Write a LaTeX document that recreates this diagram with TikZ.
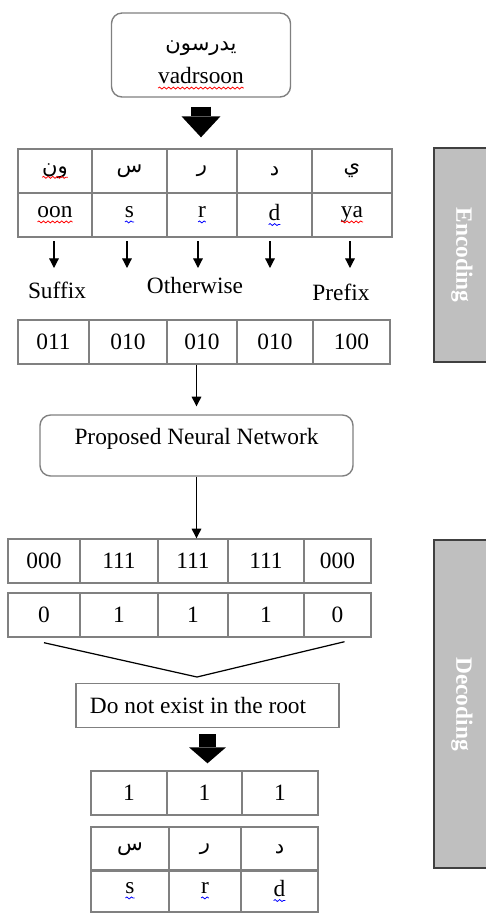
\documentclass[tikz,border=0pt]{standalone}
\usepackage{fontspec}
\setmainfont{Liberation Serif}
\newfontfamily\arabicfont[Script=Arabic]{DejaVu Sans}
\TeXXeTstate=1
\usetikzlibrary{arrows.meta, decorations.pathmorphing}

\newcommand{\basefont}{\fontsize{13.3}{16}\selectfont}
\newcommand{\ar}[1]{{\fontsize{12}{14}\selectfont\arabicfont\beginR #1\endR}}
\newcommand{\wavy}[2]{\tikz[baseline=(w.base), x=1cm, y=1cm]{%
  \node[shape=rectangle, draw=none, fill=none, inner sep=0pt, outer sep=0pt,
    minimum width=0pt, minimum height=0pt, text depth=, text width=, rotate=0] (w) {#2};
  \draw[#1, sharp corners, line width=0.45pt, decorate,
    decoration={snake, amplitude=0.55pt, segment length=2.6pt}]
    ([yshift=-2.4pt]w.base west) -- ([yshift=-2.4pt]w.base east);}}

\tikzset{
  cell/.style={draw=black!50, line width=0.8pt, minimum width={(#1)*0.02cm},
    minimum height=0.88cm, inner sep=0pt},
  roundbox/.style={draw=black!50, line width=0.8pt, rounded corners=6pt, inner sep=0pt},
  smallarrow/.style={-{Triangle[length=5.5pt, width=5.5pt]}, line width=0.7pt},
  bigarrow/.style n args={3}{line width=#1, -{Triangle[length=#2, width=#3, line width=0pt]}},
  sidebar/.style={fill=black!25, draw=black!75, line width=1pt, text=white,
    font=\basefont\bfseries, rotate=-90}
}

\begin{document}
\begin{tikzpicture}[x=0.02cm, y=-0.02cm, font=\basefont]
  \useasboundingbox (0,0) rectangle (486,914);

  % input word
  \node[roundbox, minimum width=179*0.02cm, minimum height=84*0.02cm, align=center] (word) at (201,55)
    {\rule{0pt}{17pt}\ar{يدرسون}\\[3pt]\wavy{red}{vadrsoon}};

  % split into letters
  \foreach \xa/\xb/\txt [count=\i] in {18/92/{\wavy{red}{\ar{ون}}}, 92/167/{\ar{س}},
      167/237/{\ar{ر}}, 237/312/{\ar{د}}, 312/392/{\ar{ي}}}
    \node[cell=\xb-\xa] (arab\i) at ({(\xa+\xb)/2},171) {\txt};
  \foreach \xa/\xb/\txt [count=\i] in {18/92/{\wavy{red}{oon}}, 92/167/{\wavy{blue}{s}},
      167/237/{\wavy{blue}{r}}, 237/312/{\wavy{blue}{d}}, 312/392/{\wavy{red}{ya}}}
    \node[cell=\xb-\xa] (tran\i) at ({(\xa+\xb)/2},215) {\txt};

  \draw[bigarrow={0.42cm}{0.42cm}{0.78cm}, shorten <=0.18cm, shorten >=0.22cm]
    (word.south) -- (word.south |- arab3.north);

  \foreach \i/\xx in {1/54, 2/127, 3/198, 4/270, 5/350} {
    \coordinate (tip\i) at (\xx,268);
    \draw[smallarrow, shorten <=2pt] (tip\i |- tran\i.south) -- (tip\i);
  }

  \node (suffix) at (57,290) {Suffix};
  \node (other) at (195,285) {Otherwise};
  \node (prefix) at (341,292) {Prefix};

  % codes
  \foreach \xa/\xb/\txt [count=\i] in {18/89/011, 89/167/010, 167/237/010, 237/313/010, 313/390/100}
    \node[cell=\xb-\xa] (code\i) at ({(\xa+\xb)/2},342) {\txt};

  \node[roundbox, minimum width=313*0.02cm, minimum height=61*0.02cm, text depth=10pt] (nn)
    at (196.5,445.5) {Proposed Neural Network};
  \draw[smallarrow, shorten >=0.16cm] (nn.north |- code3.south) -- (nn.north);

  % network output
  \foreach \xa/\xb/\txt [count=\i] in {8/80/000, 80/158/111, 158/228/111, 228/304/111, 304/371/000}
    \node[cell=\xb-\xa] (out\i) at ({(\xa+\xb)/2},561) {\txt};
  \foreach \xa/\xb/\txt [count=\i] in {8/80/0, 80/158/1, 158/228/1, 228/304/1, 304/371/0}
    \node[cell=\xb-\xa] (bit\i) at ({(\xa+\xb)/2},615) {\txt};
  \draw[smallarrow] (nn.south) -- (nn.south |- out3.north);

  \node[cell=263, text width=235*0.02cm, align=flush left] (root) at (207.5,705.5) {Do not exist in the root};
  \coordinate (apex) at (197,677);
  \draw[line width=0.7pt] ([yshift=-0.1cm]bit1.south) -- (apex) -- ([yshift=-0.08cm, xshift=0.14cm]bit5.south);

  % kept letters
  \foreach \xa/\xb/\txt [count=\i] in {91/167/1, 167/242/1, 242/318/1}
    \node[cell=\xb-\xa] (keep\i) at ({(\xa+\xb)/2},793) {\txt};
  \draw[bigarrow={0.36cm}{0.32cm}{0.74cm}, shorten <=0.12cm, shorten >=0.14cm]
    (root.south) -- (root.south |- keep2.north);

  \foreach \xa/\xb/\txt [count=\i] in {91/169/{\ar{س}}, 169/241/{\ar{ر}}, 241/318/{\ar{د}}}
    \node[cell=\xb-\xa] (rarab\i) at ({(\xa+\xb)/2},849) {\txt};
  \foreach \xa/\xb/\txt [count=\i] in {91/169/{\wavy{blue}{s}}, 169/241/{\wavy{blue}{r}}, 241/318/{\wavy{blue}{d}}}
    \node[cell=\xb-\xa, minimum height=0.84cm] (rtran\i) at ({(\xa+\xb)/2},891) {\txt};

  % stages
  \node[sidebar, minimum width=214*0.02cm, minimum height=56*0.02cm] (encbar) at (462,255) {Encoding};
  \node[sidebar, minimum width=328*0.02cm, minimum height=56*0.02cm] (decbar) at (462,704) {Decoding};
\end{tikzpicture}
\end{document}
